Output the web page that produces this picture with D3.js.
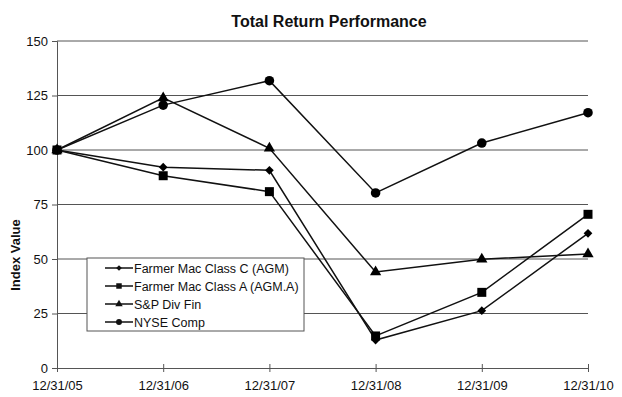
<!DOCTYPE html>
<html>
<head>
<meta charset="utf-8">
<script src="https://cdn.jsdelivr.net/npm/d3@7"></script>
<style>
  body { margin: 0; background: #fff; }
  text { font-family: "Liberation Sans", Arial, sans-serif; fill: #111; }
</style>
</head>
<body>
<div class="chartHolder"></div>
<script>
const dates = ['12/31/05', '12/31/06', '12/31/07', '12/31/08', '12/31/09', '12/31/10']
const agmC = [100, 92.1, 90.7, 12.8, 26.3, 61.8]
const agmA = [100, 88.2, 80.9, 14.7, 34.7, 70.5]
const spDivFin = [100, 123.9, 100.8, 44.0, 49.9, 52.3]
const nyseComp = [100, 120.6, 131.8, 80.3, 103.2, 117.1]
const yTicks = [0, 25, 50, 75, 100, 125, 150]
const seriesNames = ['Farmer Mac Class C (AGM)', 'Farmer Mac Class A (AGM.A)', 'S&P Div Fin', 'NYSE Comp']

const render = () => {
  var margin = { top: 41, right: 34, bottom: 29, left: 57 }
  const width = 622
  const height = 397
  const w = width - margin.left - margin.right
  const h = height - margin.top - margin.bottom

  // diamond drawn as a square turned 45 degrees
  var series = [
    { name: seriesNames[0], values: agmC, symbol: d3.symbolSquare, rot: 45, size: 38, legSize: 16 },
    { name: seriesNames[1], values: agmA, symbol: d3.symbolSquare, rot: 0, size: 81, legSize: 30 },
    { name: seriesNames[2], values: spDivFin, symbol: d3.symbolTriangle, rot: 0, size: 55, legSize: 24 },
    { name: seriesNames[3], values: nyseComp, symbol: d3.symbolCircle, rot: 0, size: 72, legSize: 28 }
  ]

  var xScale = d3.scalePoint().domain(dates).range([0, w])
  var yScale = d3.scaleLinear().domain([0, 150]).range([h, 0])

  var svg = d3.select('.chartHolder').append('svg')
    .attr('width', width)
    .attr('height', height)

  svg.append('text')
    .attr('x', 329)
    .attr('y', 27)
    .attr('text-anchor', 'middle')
    .style('font-size', '16px')
    .style('font-weight', 'bold')
    .text('Total Return Performance')

  svg.append('text')
    .attr('transform', 'translate(20,255) rotate(-90)')
    .attr('text-anchor', 'middle')
    .style('font-size', '13px')
    .style('font-weight', 'bold')
    .text('Index Value')

  var graph = svg.append('g')
    .attr('transform', `translate(${margin.left},${margin.top})`)

  // gridlines
  graph.append('g').selectAll('line')
    .data(yTicks.filter(d => d > 0))
    .enter().append('line')
    .attr('x1', 0).attr('x2', w)
    .attr('y1', d => yScale(d)).attr('y2', d => yScale(d))
    .attr('stroke', '#555').attr('stroke-width', 1)

  var yAxis = d3.axisLeft(yScale).tickValues(yTicks).tickSize(5).tickPadding(4)
  var yAxisGroup = graph.append('g').call(yAxis)
  yAxisGroup.select('.domain').attr('stroke', '#555')
  yAxisGroup.selectAll('.tick line').attr('stroke', '#555')
  yAxisGroup.selectAll('.tick text').style('font-size', '13px').style('font-family', '"Liberation Sans", Arial, sans-serif').attr('fill', '#111')

  var xAxis = d3.axisBottom(xScale).tickSize(4).tickPadding(9)
  var xAxisGroup = graph.append('g')
    .attr('transform', `translate(0,${h})`)
    .call(xAxis)
  xAxisGroup.select('.domain').attr('stroke', '#555')
  xAxisGroup.selectAll('.tick line').attr('stroke', '#555').attr('y1', -4)
  xAxisGroup.selectAll('.tick text').style('font-size', '13px').style('font-family', '"Liberation Sans", Arial, sans-serif').attr('fill', '#111')

  // legend
  var legend = graph.append('g').attr('transform', 'translate(30,217)')
  legend.append('rect')
    .attr('x', 0).attr('y', 0)
    .attr('width', 217).attr('height', 73)
    .attr('fill', '#fff').attr('stroke', '#555')
  series.forEach(function(s, i) {
    var yy = 10 + i * 18
    legend.append('line')
      .attr('x1', 18).attr('x2', 46)
      .attr('y1', yy).attr('y2', yy)
      .attr('stroke', '#111').attr('stroke-width', 1.5)
    legend.append('path')
      .attr('d', d3.symbol().type(s.symbol).size(s.legSize)())
      .attr('transform', `translate(32,${yy}) rotate(${s.rot})`)
      .attr('fill', '#111')
    legend.append('text')
      .attr('x', 47).attr('y', yy + 4.5)
      .style('font-size', '12.5px')
      .text(s.name)
  })

  var line = d3.line()
    .x((d, i) => xScale(dates[i]))
    .y(d => yScale(d))

  series.forEach(function(s) {
    graph.append('path')
      .datum(s.values)
      .attr('d', line)
      .attr('fill', 'none')
      .attr('stroke', '#111')
      .attr('stroke-width', 1.5)
    graph.append('g').selectAll('path')
      .data(s.values)
      .enter().append('path')
      .attr('d', d3.symbol().type(s.symbol).size(s.size)())
      .attr('transform', (d, i) => `translate(${xScale(dates[i])},${yScale(d)}) rotate(${s.rot})`)
      .attr('fill', '#000')
  })
}
render()
</script>
</body>
</html>
